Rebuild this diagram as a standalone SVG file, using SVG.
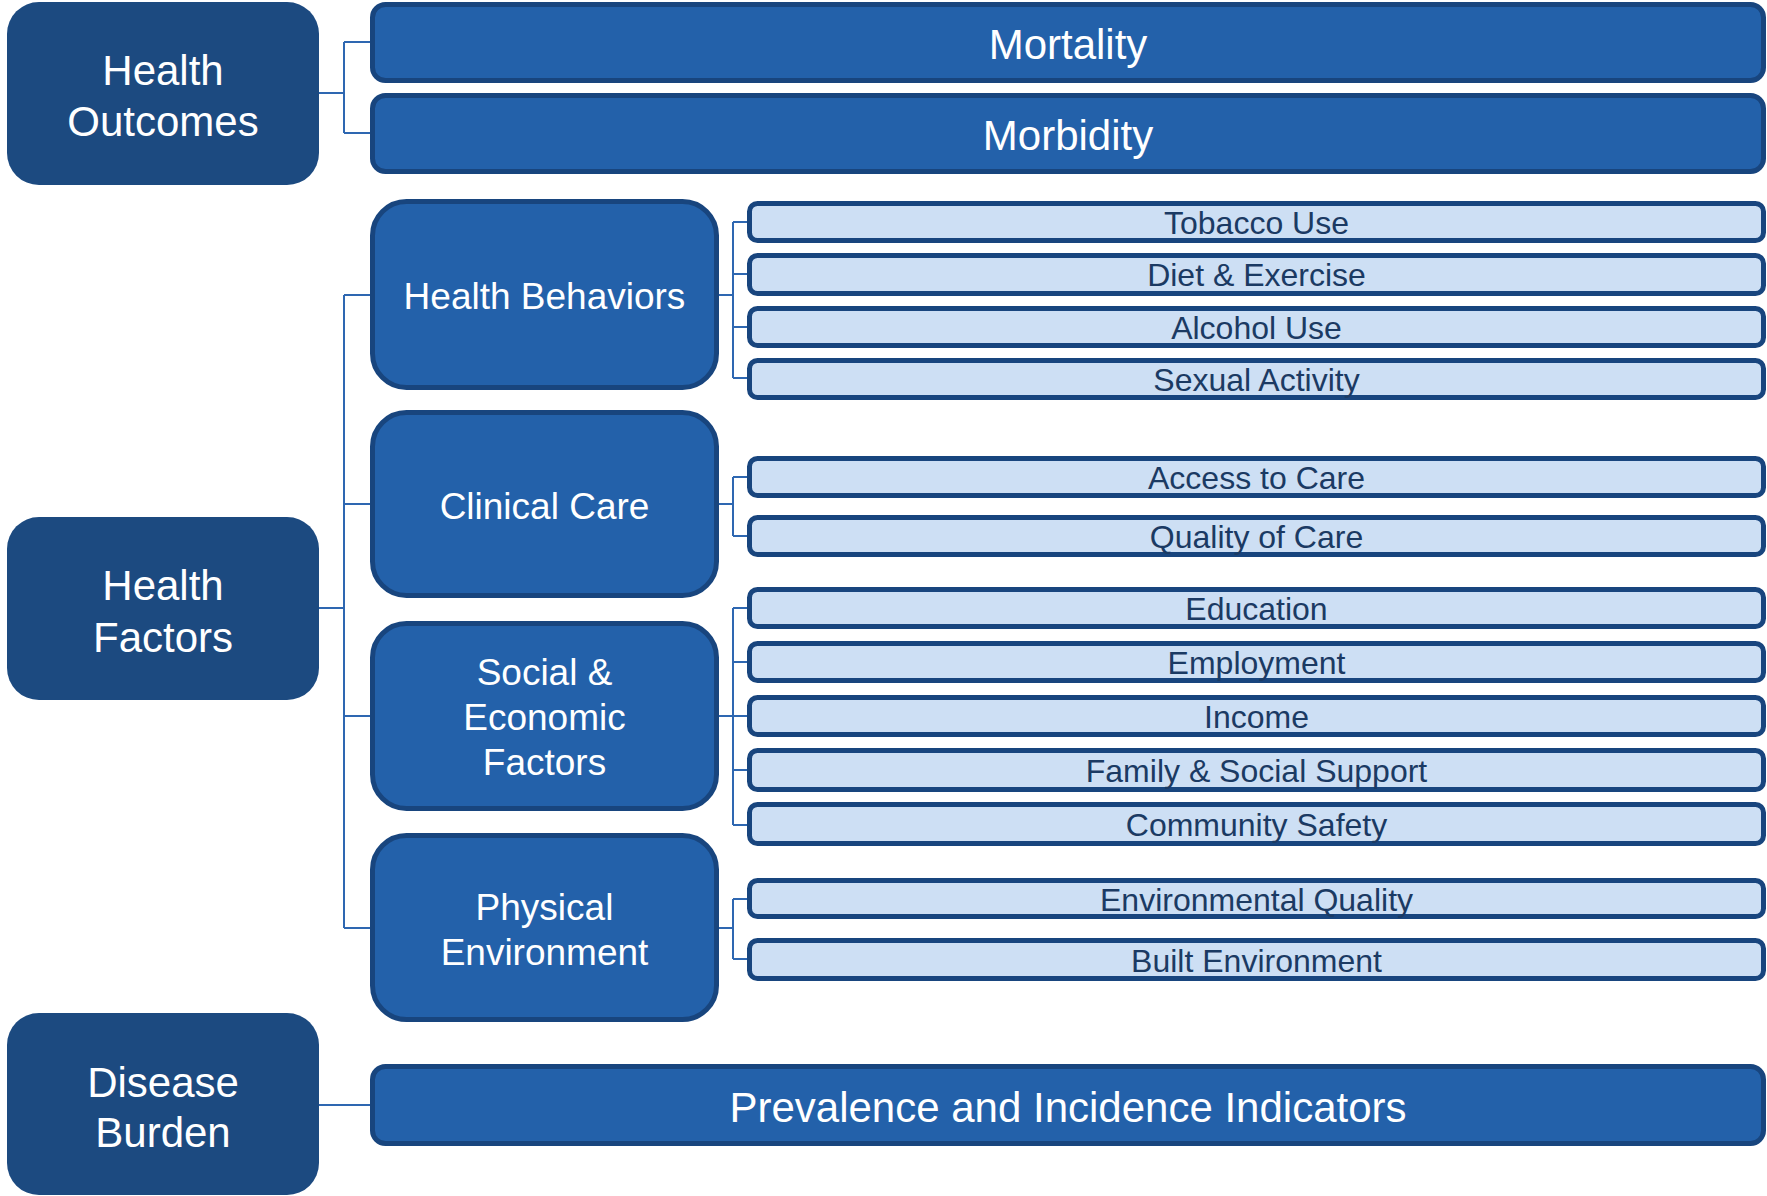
<svg xmlns="http://www.w3.org/2000/svg" width="1767" height="1196" viewBox="0 0 1767 1196">
  <style>
    .top { fill: #1C4A80; }
    .mid { fill: #2361AA; stroke: #18457E; stroke-width: 5; }
    .leaf { fill: #CDDFF4; stroke: #18457E; stroke-width: 5; }
    .conn { fill: none; stroke: #2E67B1; stroke-width: 2; }
    text { font-family: "Liberation Sans", Arial, sans-serif; text-anchor: middle; }
    .tt { fill: #FFFFFF; font-size: 42px; }
    .mt { fill: #FFFFFF; font-size: 37px; }
    .lt { fill: #1B3A63; font-size: 32px; }
  </style>
  <rect width="1767" height="1196" fill="#FFFFFF"/>

  <!-- connectors -->
  <g id="connectors" class="conn">
    <path d="M319 93 H344 M344 42 V133 M344 42 H372 M344 133 H372"/>
    <path d="M319 608 H344 M344 295 V928 M344 295 H372 M344 504 H372 M344 716 H372 M344 928 H372"/>
    <path d="M319 1105 H372"/>
    <path d="M717 295 H733 M733 222 V378 M733 222 H749 M733 274 H749 M733 327 H749 M733 378 H749"/>
    <path d="M717 504 H733 M733 477 V536 M733 477 H749 M733 536 H749"/>
    <path d="M717 716 H733 M733 608 V825 M733 608 H749 M733 662 H749 M733 716 H749 M733 770 H749 M733 825 H749"/>
    <path d="M717 928 H733 M733 899 V959 M733 899 H749 M733 959 H749"/>
  </g>

  <!-- top level categories -->
  <g id="health-outcomes">
    <rect class="top" x="7" y="2" width="312" height="183" rx="32"/>
    <text class="tt" x="163" y="85">Health</text>
    <text class="tt" x="163" y="136">Outcomes</text>
  </g>
  <g id="health-factors">
    <rect class="top" x="7" y="517" width="312" height="183" rx="32"/>
    <text class="tt" x="163" y="600">Health</text>
    <text class="tt" x="163" y="652">Factors</text>
  </g>
  <g id="disease-burden">
    <rect class="top" x="7" y="1013" width="312" height="182" rx="32"/>
    <text class="tt" x="163" y="1097">Disease</text>
    <text class="tt" x="163" y="1147">Burden</text>
  </g>

  <!-- outcome measures -->
  <g id="mortality">
    <rect class="mid" x="372.5" y="4.5" width="1391" height="76" rx="13"/>
    <text class="tt" x="1068" y="59">Mortality</text>
  </g>
  <g id="morbidity">
    <rect class="mid" x="372.5" y="95.5" width="1391" height="76" rx="13"/>
    <text class="tt" x="1068" y="150">Morbidity</text>
  </g>
  <g id="prevalence">
    <rect class="mid" x="372.5" y="1066.5" width="1391" height="77" rx="13"/>
    <text class="tt" x="1068" y="1122">Prevalence and Incidence Indicators</text>
  </g>

  <!-- factor groups -->
  <g id="health-behaviors">
    <rect class="mid" x="372.5" y="201.5" width="344" height="186" rx="34"/>
    <text class="mt" x="544.5" y="309">Health Behaviors</text>
  </g>
  <g id="clinical-care">
    <rect class="mid" x="372.5" y="412.5" width="344" height="183" rx="34"/>
    <text class="mt" x="544.5" y="519">Clinical Care</text>
  </g>
  <g id="social-economic">
    <rect class="mid" x="372.5" y="623.5" width="344" height="185" rx="34"/>
    <text class="mt" x="544.5" y="685">Social &amp;</text>
    <text class="mt" x="544.5" y="730">Economic</text>
    <text class="mt" x="544.5" y="775">Factors</text>
  </g>
  <g id="physical-environment">
    <rect class="mid" x="372.5" y="835.5" width="344" height="184" rx="34"/>
    <text class="mt" x="544.5" y="920">Physical</text>
    <text class="mt" x="544.5" y="965">Environment</text>
  </g>

  <!-- individual factors -->
  <g id="tobacco-use">
    <rect class="leaf" x="749.5" y="203.5" width="1014" height="37" rx="8"/>
    <text class="lt" x="1256.5" y="234">Tobacco Use</text>
  </g>
  <g id="diet-exercise">
    <rect class="leaf" x="749.5" y="255.5" width="1014" height="38" rx="8"/>
    <text class="lt" x="1256.5" y="286">Diet &amp; Exercise</text>
  </g>
  <g id="alcohol-use">
    <rect class="leaf" x="749.5" y="308.5" width="1014" height="37" rx="8"/>
    <text class="lt" x="1256.5" y="339">Alcohol Use</text>
  </g>
  <g id="sexual-activity">
    <rect class="leaf" x="749.5" y="360.5" width="1014" height="37" rx="8"/>
    <text class="lt" x="1256.5" y="391">Sexual Activity</text>
  </g>
  <g id="access-to-care">
    <rect class="leaf" x="749.5" y="458.5" width="1014" height="37" rx="8"/>
    <text class="lt" x="1256.5" y="489">Access to Care</text>
  </g>
  <g id="quality-of-care">
    <rect class="leaf" x="749.5" y="517.5" width="1014" height="37" rx="8"/>
    <text class="lt" x="1256.5" y="548">Quality of Care</text>
  </g>
  <g id="education">
    <rect class="leaf" x="749.5" y="589.5" width="1014" height="37" rx="8"/>
    <text class="lt" x="1256.5" y="620">Education</text>
  </g>
  <g id="employment">
    <rect class="leaf" x="749.5" y="643.5" width="1014" height="37" rx="8"/>
    <text class="lt" x="1256.5" y="674">Employment</text>
  </g>
  <g id="income">
    <rect class="leaf" x="749.5" y="697.5" width="1014" height="37" rx="8"/>
    <text class="lt" x="1256.5" y="728">Income</text>
  </g>
  <g id="family-social-support">
    <rect class="leaf" x="749.5" y="750.5" width="1014" height="39" rx="8"/>
    <text class="lt" x="1256.5" y="782">Family &amp; Social Support</text>
  </g>
  <g id="community-safety">
    <rect class="leaf" x="749.5" y="804.5" width="1014" height="39" rx="8"/>
    <text class="lt" x="1256.5" y="836">Community Safety</text>
  </g>
  <g id="environmental-quality">
    <rect class="leaf" x="749.5" y="880.5" width="1014" height="36" rx="8"/>
    <text class="lt" x="1256.5" y="911">Environmental Quality</text>
  </g>
  <g id="built-environment">
    <rect class="leaf" x="749.5" y="940.5" width="1014" height="38" rx="8"/>
    <text class="lt" x="1256.5" y="972">Built Environment</text>
  </g>
</svg>
